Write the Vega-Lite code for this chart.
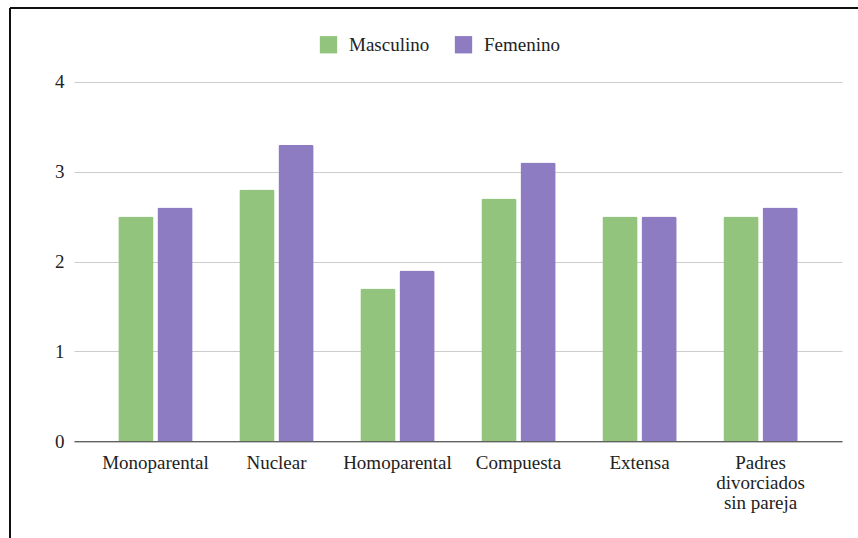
{
  "$schema": "https://vega.github.io/schema/vega-lite/v6.json",
  "width": 848,
  "height": 530,
  "autosize": {"type": "none"},
  "padding": {"left": 10, "top": 8, "right": 0, "bottom": 0},
  "background": "white",
  "config": {
    "view": {"stroke": "#111111", "strokeWidth": 2, "strokeDash": [848, 1378, 530, 0]},
    "font": "'Liberation Serif', 'Times New Roman', serif"
  },
  "data": {
    "values": [
      {"categoria": "Monoparental", "genero": "Masculino", "valor": 2.5},
      {"categoria": "Monoparental", "genero": "Femenino", "valor": 2.6},
      {"categoria": "Nuclear", "genero": "Masculino", "valor": 2.8},
      {"categoria": "Nuclear", "genero": "Femenino", "valor": 3.3},
      {"categoria": "Homoparental", "genero": "Masculino", "valor": 1.7},
      {"categoria": "Homoparental", "genero": "Femenino", "valor": 1.9},
      {"categoria": "Compuesta", "genero": "Masculino", "valor": 2.7},
      {"categoria": "Compuesta", "genero": "Femenino", "valor": 3.1},
      {"categoria": "Extensa", "genero": "Masculino", "valor": 2.5},
      {"categoria": "Extensa", "genero": "Femenino", "valor": 2.5},
      {"categoria": "Padres divorciados sin pareja", "genero": "Masculino", "valor": 2.5},
      {"categoria": "Padres divorciados sin pareja", "genero": "Femenino", "valor": 2.6}
    ]
  },
  "mark": {"type": "bar", "cornerRadiusTopLeft": 2, "cornerRadiusTopRight": 2},
  "encoding": {
    "x": {
      "field": "categoria",
      "type": "nominal",
      "sort": null,
      "scale": {"range": [64, 832], "paddingInner": 0.386, "paddingOuter": 0.366},
      "axis": {
        "title": null,
        "labelAngle": 0,
        "ticks": false,
        "labelPadding": 12,
        "labelFont": "'Liberation Serif', 'Times New Roman', serif",
        "labelFontSize": 19,
        "labelColor": "#222222",
        "labelLineHeight": 20,
        "labelExpr": "datum.label == 'Padres divorciados sin pareja' ? ['Padres', 'divorciados', 'sin pareja'] : datum.label",
        "domainColor": "#333333",
        "domainWidth": 1,
        "grid": false,
        "offset": -96.7
      }
    },
    "xOffset": {
      "field": "genero",
      "type": "nominal",
      "sort": ["Masculino", "Femenino"],
      "scale": {"paddingInner": 0.1, "paddingOuter": 0}
    },
    "y": {
      "field": "valor",
      "type": "quantitative",
      "scale": {"domain": [0, 4], "range": [433.3, 73.7], "nice": false},
      "axis": {
        "title": null,
        "values": [0, 1, 2, 3, 4],
        "ticks": false,
        "domain": false,
        "labelPadding": 10,
        "labelFont": "'Liberation Serif', 'Times New Roman', serif",
        "labelFontSize": 19,
        "labelColor": "#222222",
        "grid": true,
        "gridColor": "#cccccc",
        "gridWidth": 1,
        "offset": -64
      }
    },
    "color": {
      "field": "genero",
      "type": "nominal",
      "scale": {"domain": ["Masculino", "Femenino"], "range": ["#93c47d", "#8e7cc3"]},
      "legend": {
        "title": null,
        "orient": "none",
        "legendX": 309,
        "legendY": 27,
        "direction": "horizontal",
        "symbolType": "square",
        "symbolSize": 300,
        "symbolStrokeWidth": 0,
        "symbolOpacity": 1,
        "labelFont": "'Liberation Serif', 'Times New Roman', serif",
        "labelFontSize": 19,
        "labelColor": "#222222",
        "labelOffset": 11,
        "columnPadding": 24,
        "padding": 0
      }
    }
  }
}
